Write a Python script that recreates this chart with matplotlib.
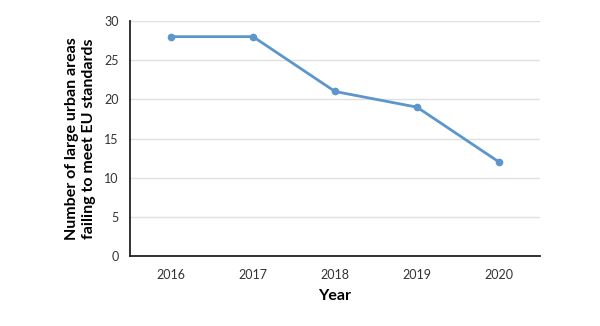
import matplotlib
matplotlib.use("Agg")
import matplotlib.pyplot as plt

years = [2016, 2017, 2018, 2019, 2020]
areas_failing = [28, 28, 21, 19, 12]
y_ticks = [0, 5, 10, 15, 20, 25, 30]

plt.rcParams['font.family'] = ['Lato', 'DejaVu Sans']

fig = plt.figure(figsize=(6, 3.26), dpi=100)
ax = fig.add_axes([0.2167, 0.2147, 0.6833, 0.7209])

ax.plot(years, areas_failing, color='#5b96cc', linewidth=2, marker='o', markersize=4.5, zorder=3)

ax.set_xlim(2015.5, 2020.5)
ax.set_ylim(0, 30)
ax.set_xticks(years)
ax.set_yticks(y_ticks)
ax.tick_params(axis='both', length=0, labelsize=9, colors='#333333', pad=9)
ax.tick_params(axis='y', pad=8)
ax.grid(axis='y', color='#e0e0e0', linewidth=1)
ax.set_axisbelow(True)

for side in ['top', 'right']:
    ax.spines[side].set_visible(False)
for side in ['left', 'bottom']:
    ax.spines[side].set_color('#222222')
    ax.spines[side].set_linewidth(1.3)

ax.set_xlabel('Year', fontsize=11.5, fontweight='bold', labelpad=6)
ax.set_ylabel('Number of large urban areas\nfailing to meet EU standards', fontsize=11.5,
              fontweight='bold', labelpad=6, linespacing=1.3)

fig.savefig('out.png', dpi=100)
